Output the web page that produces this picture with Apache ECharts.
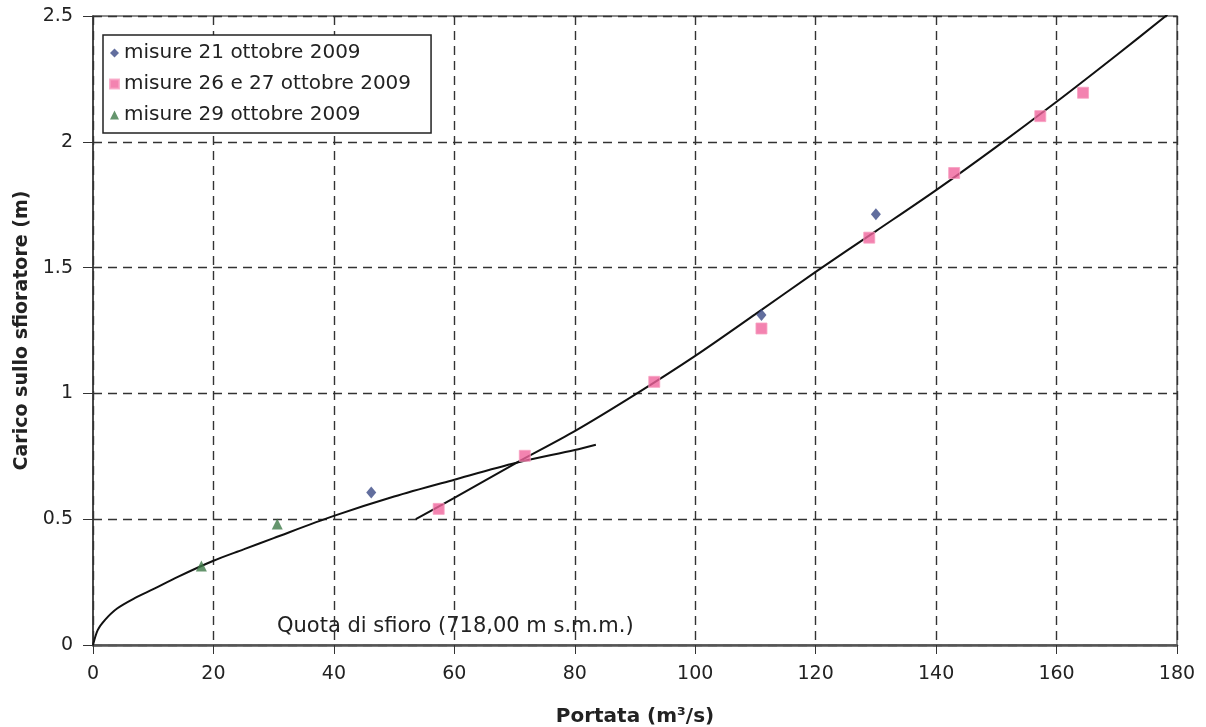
<!DOCTYPE html>
<html>
<head>
<meta charset="utf-8">
<script src="https://cdn.jsdelivr.net/npm/echarts@6/dist/echarts.min.js"></script>
<style>
  html, body { margin: 0; padding: 0; background: #fff; }
  #chart { width: 1206px; height: 727px; }
</style>
</head>
<body>
<div id="chart"></div>
<script>
// misure puntuali [portata, carico]
const misure21 = [[46.2, 0.606], [111.0, 1.312], [130.0, 1.712]]
const misure2627 = [
    [57.4, 0.541], [71.7, 0.752], [93.2, 1.046], [111.0, 1.258],
    [128.9, 1.619], [143.0, 1.876], [157.3, 2.102], [164.4, 2.195],
]
const misure29 = [[18.0, 0.314], [30.6, 0.481]]

// scala di deflusso
const curvaBassa = [
    [0, 0], [0.8, 0.06], [2, 0.1], [4, 0.145], [7, 0.187], [10, 0.222],
    [14, 0.27], [20, 0.335], [25, 0.38], [30, 0.425], [40, 0.513],
    [50, 0.59], [60, 0.657], [70.3, 0.724], [80, 0.775], [83.5, 0.796],
]
const curvaAlta = [
    [53.6, 0.5], [60, 0.585], [70.3, 0.724], [80, 0.85], [90, 0.995],
    [100, 1.149], [110, 1.315], [120, 1.483], [130, 1.645], [140, 1.808],
    [150, 1.98], [160, 2.159], [170, 2.345], [178.4, 2.505],
]

const legendNames = ['misure 21 ottobre 2009', 'misure 26 e 27 ottobre 2009', 'misure 29 ottobre 2009']

const chart = echarts.init(document.getElementById('chart'))
const font = 'DejaVu Sans'
const dashed = { color: '#333', type: [9, 6], width: 1.4 }

chart.setOption({
    backgroundColor: '#fff',
    animation: false,
    grid: {
        left: 93, right: 29, top: 16, bottom: 82,
        outerBoundsMode: 'none', containLabel: false,
        show: true, borderColor: '#666', borderWidth: 1.5,
    },
    xAxis: {
        type: 'value', min: 0, max: 180, interval: 20,
        name: 'Portata (m³/s)', nameLocation: 'middle', nameGap: 62,
        nameTextStyle: { fontFamily: font, fontWeight: 'bold', fontSize: 20, color: '#222' },
        axisLine: { lineStyle: { color: '#555', width: 2.5 } },
        axisTick: { show: true, length: 9, lineStyle: { color: '#333' } },
        axisLabel: { fontFamily: font, fontSize: 19, color: '#222', margin: 20 },
        splitLine: { show: true, lineStyle: dashed },
    },
    yAxis: {
        type: 'value', min: 0, max: 2.5, interval: 0.5,
        name: 'Carico sullo sfioratore (m)', nameLocation: 'middle', nameGap: 61,
        nameTextStyle: { fontFamily: font, fontWeight: 'bold', fontSize: 19, color: '#222' },
        axisLine: { show: true, lineStyle: { color: '#333', width: 1.5 } },
        axisTick: { show: true, length: 10, lineStyle: { color: '#333' } },
        axisLabel: { fontFamily: font, fontSize: 19, color: '#222', margin: 20 },
        splitLine: { show: true, lineStyle: dashed },
    },
    legend: {
        data: legendNames,
        orient: 'vertical', left: 103, top: 35,
        backgroundColor: '#fff', borderColor: '#222', borderWidth: 1.5,
        padding: [8, 20, 8, 6], itemGap: 11, itemWidth: 9, itemHeight: 9,
        textStyle: { fontFamily: font, fontSize: 20, color: '#222' },
    },
    graphic: [{
        type: 'text', left: 277, top: 616,
        style: { text: 'Quota di sfioro (718,00 m s.m.m.)', font: '21px "DejaVu Sans"', fill: '#222' },
    }],
    series: [
        {
            name: 'curva bassa', type: 'line', data: curvaBassa, showSymbol: false,
            smooth: 0.3, lineStyle: { color: '#111', width: 2 }, z: 3,
        },
        {
            name: 'curva alta', type: 'line', data: curvaAlta, showSymbol: false,
            smooth: 0.3, lineStyle: { color: '#111', width: 2 }, z: 3,
        },
        {
            name: legendNames[0], type: 'scatter', data: misure21,
            symbol: 'diamond', symbolSize: [10, 12],
            itemStyle: { color: '#3b4a86' }, z: 5,
        },
        {
            name: legendNames[1], type: 'scatter', data: misure2627,
            symbol: 'rect', symbolSize: 11,
            itemStyle: { color: '#f0649c', borderColor: '#f7a0c2', borderWidth: 1 }, z: 5,
        },
        {
            name: legendNames[2], type: 'scatter', data: misure29,
            symbol: 'triangle', symbolSize: 11,
            itemStyle: { color: '#3f7a48' }, z: 5,
        },
    ],
})
</script>
</body>
</html>
